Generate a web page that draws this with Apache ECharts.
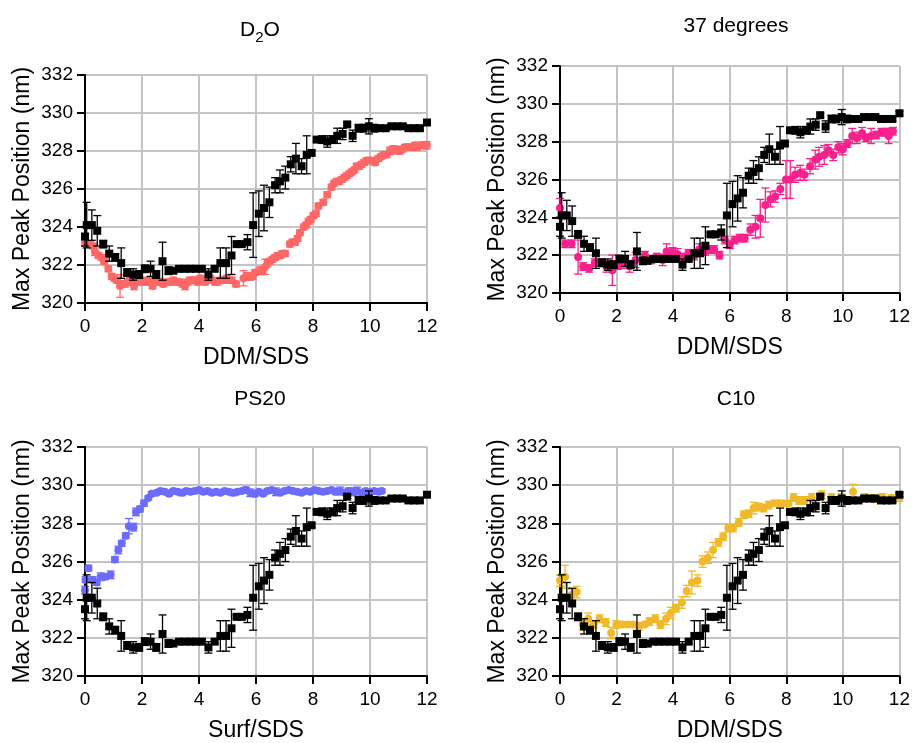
<!DOCTYPE html>
<html>
<head>
<meta charset="utf-8">
<script src="https://cdn.jsdelivr.net/npm/echarts@6/dist/echarts.min.js"></script>
<style>
html, body { margin: 0; padding: 0; background: #fff; }
#main { width: 913px; height: 743px; }
</style>
</head>
<body>
<div id="main"></div>
<script>
// reference series (black squares), same in all four panels
var blackX = [0, 0.06, 0.24, 0.43, 0.64, 0.85, 1.06, 1.27, 1.48, 1.69, 1.9, 2.1, 2.3, 2.5, 2.72, 2.93, 3.1, 3.3, 3.5, 3.7, 3.9, 4.1, 4.33, 4.55, 4.75, 4.95, 5.14, 5.32, 5.5, 5.7, 5.9, 6.1, 6.28, 6.47, 6.67, 6.84, 7.03, 7.22, 7.4, 7.6, 7.78, 7.95, 8.13, 8.32, 8.5, 8.69, 8.85, 9.04, 9.2, 9.39, 9.6, 9.77, 9.96, 10.15, 10.35, 10.55, 10.75, 10.95, 11.15, 11.35, 11.55, 11.75, 12];
var blackY = [323.5, 324.1, 324.1, 323.8, 323.1, 322.6, 322.4, 322.1, 321.6, 321.5, 321.5, 321.8, 321.8, 321.5, 322.2, 321.7, 321.7, 321.8, 321.8, 321.8, 321.8, 321.8, 321.5, 321.8, 322.1, 322.1, 322.5, 323.1, 323.1, 323.2, 324.1, 324.7, 325.0, 325.3, 326.2, 326.4, 326.6, 327.3, 327.6, 327.2, 327.8, 327.9, 328.6, 328.6, 328.5, 328.6, 328.8, 328.9, 329.4, 328.8, 329.2, 329.2, 329.3, 329.2, 329.2, 329.2, 329.3, 329.3, 329.3, 329.2, 329.2, 329.2, 329.5];
var blackErr = [0.5, 1.2, 0.8, 0.8, 0.2, 0.4, 0.2, 0.8, 0.2, 0.3, 0.2, 0.2, 0.4, 0.2, 1.0, 0.2, 0.1, 0.1, 0.1, 0.1, 0.1, 0.1, 0.3, 0.1, 0.8, 0.8, 1.0, 0.1, 0.1, 0.4, 1.7, 1.2, 1.2, 0.8, 0.4, 0.6, 0.6, 0.4, 0.8, 0.4, 1.0, 0.1, 0.1, 0.2, 0.3, 0.2, 0.4, 0.3, 0.1, 0.3, 0.2, 0.2, 0.4, 0.2, 0.1, 0.1, 0.1, 0.1, 0.1, 0.1, 0.1, 0.1, 0.1];

// D2O
var d2oX = [0, 0.1, 0.18, 0.28, 0.35, 0.47, 0.58, 0.67, 0.82, 0.94, 1.03, 1.11, 1.23, 1.32, 1.4, 1.5, 1.58, 1.72, 1.82, 1.93, 2.02, 2.11, 2.2, 2.28, 2.37, 2.46, 2.55, 2.63, 2.75, 2.89, 3.0, 3.1, 3.2, 3.33, 3.42, 3.51, 3.6, 3.68, 3.77, 3.86, 3.95, 4.04, 4.12, 4.21, 4.3, 4.39, 4.47, 4.56, 4.65, 4.74, 4.85, 4.97, 5.06, 5.15, 5.3, 5.56, 5.68, 5.79, 5.88, 5.96, 6.14, 6.24, 6.32, 6.4, 6.49, 6.58, 6.67, 6.76, 6.84, 6.93, 7.02, 7.19, 7.28, 7.37, 7.46, 7.54, 7.68, 7.76, 7.84, 7.92, 8.01, 8.1, 8.19, 8.36, 8.5, 8.65, 8.74, 8.83, 8.92, 9.01, 9.1, 9.18, 9.27, 9.36, 9.45, 9.53, 9.62, 9.71, 9.8, 9.88, 9.97, 10.06, 10.18, 10.29, 10.38, 10.47, 10.58, 10.7, 10.79, 10.88, 10.96, 11.05, 11.14, 11.23, 11.32, 11.4, 11.49, 11.58, 11.66, 11.75, 11.84, 11.92, 11.99];
var d2oY = [323.2, 323.1, 323.1, 323.0, 322.7, 322.5, 322.4, 322.2, 321.8, 321.4, 321.3, 321.2, 320.9, 321.0, 321.0, 321.1, 321.2, 320.9, 321.1, 321.2, 321.1, 321.1, 321.2, 321.1, 320.9, 321.2, 321.1, 321.1, 321.0, 321.1, 321.1, 321.2, 321.1, 321.1, 321.0, 320.9, 321.1, 321.2, 321.2, 321.2, 321.1, 321.3, 321.2, 321.1, 321.2, 321.3, 321.2, 321.1, 321.1, 321.2, 321.2, 321.3, 321.2, 321.2, 321.0, 321.3, 321.4, 321.4, 321.4, 321.6, 321.7, 321.7, 321.9, 322.1, 322.2, 322.3, 322.4, 322.5, 322.5, 322.6, 322.6, 323.1, 323.2, 323.2, 323.4, 323.7, 324.0, 324.1, 324.3, 324.4, 324.6, 324.7, 325.1, 325.3, 325.7, 326.1, 326.3, 326.4, 326.4, 326.5, 326.6, 326.7, 326.8, 326.9, 327.0, 327.2, 327.2, 327.3, 327.4, 327.5, 327.5, 327.5, 327.4, 327.6, 327.7, 327.8, 327.8, 328.0, 328.1, 328.1, 328.0, 328.0, 328.1, 328.2, 328.2, 328.2, 328.2, 328.3, 328.2, 328.3, 328.3, 328.3, 328.3];
var d2oErr = [0.2, 0.15, 0.15, 0.15, 0.2, 0.15, 0.15, 0.15, 0.15, 0.15, 0.15, 0.15, 0.6, 0.15, 0.15, 0.15, 0.15, 0.2, 0.15, 0.15, 0.15, 0.15, 0.15, 0.15, 0.15, 0.15, 0.15, 0.15, 0.15, 0.15, 0.15, 0.15, 0.15, 0.15, 0.15, 0.2, 0.15, 0.15, 0.15, 0.15, 0.15, 0.15, 0.15, 0.15, 0.15, 0.15, 0.15, 0.15, 0.15, 0.15, 0.15, 0.15, 0.15, 0.15, 0.15, 0.4, 0.2, 0.2, 0.15, 0.15, 0.2, 0.2, 0.4, 0.2, 0.15, 0.15, 0.15, 0.15, 0.15, 0.15, 0.15, 0.15, 0.15, 0.15, 0.15, 0.15, 0.15, 0.15, 0.15, 0.15, 0.15, 0.15, 0.15, 0.15, 0.15, 0.15, 0.15, 0.15, 0.15, 0.15, 0.15, 0.15, 0.15, 0.15, 0.15, 0.15, 0.15, 0.15, 0.15, 0.15, 0.15, 0.15, 0.15, 0.15, 0.15, 0.15, 0.15, 0.2, 0.15, 0.15, 0.15, 0.15, 0.15, 0.15, 0.15, 0.15, 0.15, 0.15, 0.15, 0.15, 0.15, 0.15, 0.2];

// 37 degrees
var t37X = [0, 0.18, 0.41, 0.64, 0.82, 1.03, 1.23, 1.43, 1.64, 1.85, 2.05, 2.25, 2.46, 2.67, 3.0, 3.22, 3.42, 3.63, 3.77, 3.98, 4.16, 4.33, 4.54, 4.74, 4.92, 5.13, 5.33, 5.45, 5.64, 5.83, 6.0, 6.18, 6.35, 6.53, 6.73, 6.91, 7.08, 7.26, 7.44, 7.61, 7.79, 7.99, 8.14, 8.31, 8.49, 8.64, 8.84, 9.02, 9.16, 9.34, 9.49, 9.66, 9.84, 10.0, 10.16, 10.33, 10.5, 10.68, 10.83, 11.0, 11.18, 11.36, 11.5, 11.62, 11.77];
var t37Y = [324.5, 322.6, 322.6, 321.9, 321.4, 321.3, 321.6, 321.6, 321.4, 321.2, 321.45, 321.6, 321.4, 321.75, 322.0, 321.75, 321.9, 321.75, 322.2, 322.2, 322.05, 321.9, 322.1, 321.95, 322.3, 322.2, 322.3, 322.3, 322.0, 322.8, 322.55, 322.8, 322.9, 322.9, 323.35, 323.5, 323.95, 324.65, 324.95, 325.1, 325.5, 326.0, 326.0, 326.25, 326.35, 326.25, 326.7, 327.05, 327.2, 327.3, 327.55, 327.3, 327.7, 327.6, 327.9, 328.3, 328.2, 328.45, 328.2, 328.3, 328.35, 328.5, 328.5, 328.3, 328.55];
var t37Err = [0.5, 0.2, 0.2, 0.9, 0.2, 0.2, 0.2, 0.2, 0.3, 0.8, 0.2, 0.3, 0.3, 0.4, 0.2, 0.2, 0.2, 0.3, 0.4, 0.2, 0.3, 0.2, 0.2, 0.2, 0.3, 0.2, 0.2, 0.2, 0.2, 0.2, 0.2, 0.2, 0.2, 0.2, 0.3, 0.6, 1.0, 0.9, 0.4, 0.3, 0.3, 1.0, 1.0, 0.4, 0.4, 0.3, 0.4, 0.5, 0.5, 0.5, 0.3, 0.3, 0.3, 0.3, 0.2, 0.4, 0.3, 0.3, 0.2, 0.4, 0.2, 0.2, 0.2, 0.4, 0.2];

// PS20
var ps20X = [0, 0.02, 0.12, 0.27, 0.41, 0.55, 0.7, 0.9, 1.05, 1.17, 1.29, 1.43, 1.54, 1.7, 1.79, 1.93, 2.07, 2.22, 2.34, 2.51, 2.65, 2.8, 2.95, 3.1, 3.25, 3.4, 3.55, 3.7, 3.85, 4.0, 4.15, 4.3, 4.45, 4.6, 4.75, 4.9, 5.05, 5.2, 5.35, 5.5, 5.65, 5.8, 5.95, 6.1, 6.25, 6.4, 6.55, 6.7, 6.85, 7.0, 7.15, 7.3, 7.45, 7.6, 7.75, 7.9, 8.05, 8.2, 8.35, 8.5, 8.65, 8.8, 8.95, 9.1, 9.25, 9.4, 9.55, 9.7, 9.85, 10.0, 10.15, 10.3, 10.41];
var ps20Y = [324.5, 325.05, 325.65, 325.05, 324.9, 325.2, 325.2, 325.3, 326.1, 326.6, 326.95, 327.35, 327.85, 327.8, 328.6, 328.75, 329.05, 329.33, 329.55, 329.6, 329.7, 329.65, 329.55, 329.7, 329.65, 329.6, 329.7, 329.65, 329.7, 329.75, 329.65, 329.7, 329.6, 329.65, 329.6, 329.7, 329.65, 329.6, 329.65, 329.7, 329.75, 329.6, 329.55, 329.65, 329.55, 329.7, 329.75, 329.65, 329.6, 329.7, 329.75, 329.7, 329.65, 329.6, 329.7, 329.65, 329.75, 329.7, 329.65, 329.7, 329.75, 329.65, 329.7, 329.6, 329.7, 329.65, 329.7, 329.6, 329.7, 329.65, 329.7, 329.65, 329.7];
var ps20Err = [0.2, 0.15, 0.15, 0.15, 0.15, 0.2, 0.15, 0.2, 0.15, 0.2, 0.15, 0.15, 0.4, 0.2, 0.2, 0.15, 0.15, 0.1, 0.1, 0.1, 0.1, 0.1, 0.1, 0.1, 0.1, 0.15, 0.1, 0.1, 0.1, 0.1, 0.1, 0.1, 0.1, 0.1, 0.1, 0.1, 0.1, 0.15, 0.1, 0.1, 0.15, 0.2, 0.15, 0.1, 0.1, 0.1, 0.1, 0.2, 0.1, 0.1, 0.1, 0.1, 0.1, 0.1, 0.1, 0.1, 0.1, 0.1, 0.1, 0.1, 0.1, 0.15, 0.2, 0.1, 0.15, 0.2, 0.2, 0.1, 0.1, 0.1, 0.1, 0.1, 0.1];

// C10
var c10X = [0, 0.18, 0.41, 0.59, 0.8, 1.0, 1.19, 1.4, 1.62, 1.81, 1.99, 2.2, 2.4, 2.58, 2.79, 2.99, 3.16, 3.37, 3.55, 3.75, 3.92, 4.1, 4.31, 4.48, 4.66, 4.86, 5.04, 5.23, 5.41, 5.6, 5.77, 5.95, 6.12, 6.32, 6.5, 6.67, 6.85, 7.03, 7.2, 7.38, 7.55, 7.73, 7.9, 8.08, 8.26, 8.45, 8.64, 8.9, 9.25, 9.6, 9.95, 10.36, 10.77, 11.1, 11.4, 11.7, 12.0];
var c10Y = [325.0, 325.2, 324.25, 324.4, 322.7, 323.0, 322.7, 323.0, 322.8, 322.25, 322.7, 322.7, 322.7, 322.7, 322.6, 322.7, 322.85, 323.0, 322.7, 323.0, 323.3, 323.55, 323.85, 324.45, 324.9, 325.0, 326.0, 326.2, 326.6, 327.0, 327.3, 327.75, 327.75, 328.05, 328.45, 328.5, 328.8, 328.85, 328.8, 328.95, 329.05, 329.05, 329.05, 329.05, 329.35, 329.2, 329.2, 329.35, 329.5, 329.35, 329.35, 329.65, 329.35, 329.3, 329.35, 329.3, 329.35];
var c10Err = [0.3, 0.6, 0.3, 0.3, 0.3, 0.3, 0.2, 0.2, 0.2, 0.3, 0.2, 0.1, 0.1, 0.1, 0.2, 0.1, 0.2, 0.2, 0.2, 0.3, 0.3, 0.2, 0.3, 0.3, 0.6, 0.3, 0.3, 0.3, 0.4, 0.2, 0.2, 0.2, 0.2, 0.2, 0.2, 0.2, 0.3, 0.2, 0.2, 0.2, 0.1, 0.1, 0.1, 0.1, 0.2, 0.2, 0.2, 0.2, 0.2, 0.2, 0.2, 0.4, 0.2, 0.2, 0.2, 0.2, 0.2];

var panelTitles = ['D{sub|2}O', '37 degrees', 'PS20', 'C10'];
var xNames = ['DDM/SDS', 'DDM/SDS', 'Surf/SDS', 'DDM/SDS'];
var yName = 'Max Peak Position (nm)';
var colours = ['#FF6666', '#F7208C', '#6B6BFF', '#F0B92A'];

var FONT = 'Liberation Sans, Arial, sans-serif';
var grids = [
	{left: 85, top: 75, width: 342, height: 228},
	{left: 560, top: 66, width: 342, height: 227},
	{left: 85, top: 447, width: 342, height: 229},
	{left: 560, top: 447, width: 342, height: 229}
];
var titlePos = [[255, 11], [731, 11], [255, 384], [731, 384]];

function pts(x, y) {
	var out = [];
	for (var i = 0; i < x.length; i++) out.push([x[i], y[i]]);
	return out;
}

// vertical error bars with caps
function errBars(k, x, y, e, colour, z) {
	var d = [];
	for (var i = 0; i < x.length; i++) d.push([x[i], y[i] - e[i], y[i] + e[i]]);
	return {
		type: 'custom',
		xAxisIndex: k,
		yAxisIndex: k,
		z: z,
		silent: true,
		data: d,
		renderItem: function(params, api) {
			var lo = api.coord([api.value(0), api.value(1)]);
			var hi = api.coord([api.value(0), api.value(2)]);
			var w = 4;
			var st = {stroke: colour, lineWidth: 1.3};
			return {
				type: 'group',
				children: [
					{type: 'line', shape: {x1: lo[0], y1: lo[1], x2: hi[0], y2: hi[1]}, style: st},
					{type: 'line', shape: {x1: lo[0] - w, y1: lo[1], x2: lo[0] + w, y2: lo[1]}, style: st},
					{type: 'line', shape: {x1: hi[0] - w, y1: hi[1], x2: hi[0] + w, y2: hi[1]}, style: st}
				]
			};
		}
	};
}

var colouredSets = [
	[d2oX, d2oY, d2oErr],
	[t37X, t37Y, t37Err],
	[ps20X, ps20Y, ps20Err],
	[c10X, c10Y, c10Err]
];

var titles = [], xAxes = [], yAxes = [], series = [];
for (var k = 0; k < 4; k++) {
	titles.push({
		text: panelTitles[k],
		left: titlePos[k][0],
		top: titlePos[k][1],
		textAlign: 'center',
		textStyle: {
			fontFamily: FONT, fontSize: 21, fontWeight: 'normal', color: '#000',
			rich: {sub: {fontFamily: FONT, fontSize: 15, color: '#000', verticalAlign: 'bottom', padding: [14, 0, 0, 0]}}
		}
	});
	xAxes.push({
		gridIndex: k, type: 'value', min: 0, max: 12, interval: 2,
		name: xNames[k], nameLocation: 'middle', nameGap: 43,
		nameTextStyle: {fontFamily: FONT, fontSize: 23, color: '#000'},
		axisLine: {show: true, onZero: false, lineStyle: {color: '#000', width: 2}},
		axisTick: {show: true, length: 8, lineStyle: {color: '#000', width: 2}},
		axisLabel: {fontFamily: FONT, fontSize: 19, color: '#000', margin: 14},
		splitLine: {show: true, lineStyle: {color: '#C4C4C4', width: 2}}
	});
	yAxes.push({
		gridIndex: k, type: 'value', min: 320, max: 332, interval: 2,
		name: yName, nameLocation: 'middle', nameGap: 51,
		nameTextStyle: {fontFamily: FONT, fontSize: 23, color: '#000'},
		axisLine: {show: true, onZero: false, lineStyle: {color: '#000', width: 2}},
		axisTick: {show: true, length: 8, lineStyle: {color: '#000', width: 2}},
		axisLabel: {fontFamily: FONT, fontSize: 19, color: '#000', margin: 12},
		splitLine: {show: true, lineStyle: {color: '#C4C4C4', width: 2}}
	});
	var s = colouredSets[k];
	series.push(errBars(k, s[0], s[1], s[2], colours[k], 3));
	series.push({
		type: 'scatter', xAxisIndex: k, yAxisIndex: k, z: 4,
		symbol: 'circle', symbolSize: 8,
		itemStyle: {color: colours[k], opacity: 1},
		data: pts(s[0], s[1])
	});
	series.push(errBars(k, blackX, blackY, blackErr, '#000', 5));
	series.push({
		type: 'scatter', xAxisIndex: k, yAxisIndex: k, z: 6,
		symbol: 'rect', symbolSize: 8,
		itemStyle: {color: '#000', opacity: 1},
		data: pts(blackX, blackY)
	});
}

var myChart = echarts.init(document.getElementById('main'));
var option = {
	animation: false,
	backgroundColor: '#fff',
	title: titles,
	grid: grids,
	xAxis: xAxes,
	yAxis: yAxes,
	series: series
};
myChart.setOption(option);
</script>
</body>
</html>
